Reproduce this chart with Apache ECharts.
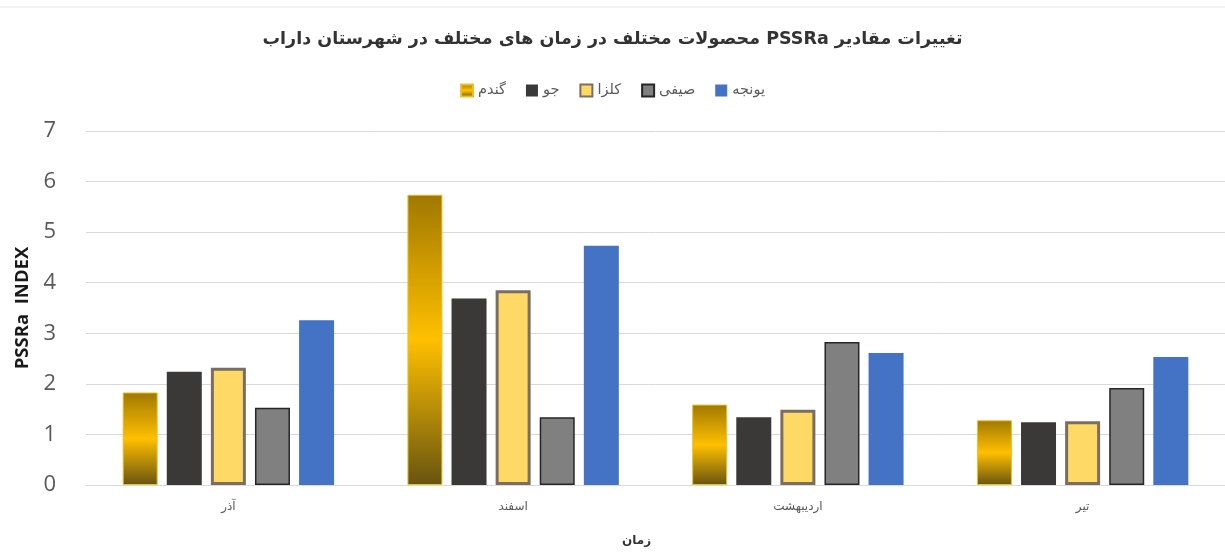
<!DOCTYPE html>
<html>
<head>
<meta charset="utf-8">
<script src="https://cdn.jsdelivr.net/npm/echarts@6/dist/echarts.min.js"></script>
<style>
  html, body { margin: 0; padding: 0; background: #fff; }
  #chart { width: 1225px; height: 552px; }
</style>
</head>
<body>
<div id="chart"></div>
<script>
// Months (categories along the x axis)
const months = ['آذر', 'اسفند', 'اردیبهشت', 'تیر'];

// PSSRa index per crop, one value per month
const wheat = [1.83, 5.74, 1.59, 1.28];     // گندم
const barley = [2.24, 3.69, 1.34, 1.24];    // جو
const canola = [2.32, 3.85, 1.49, 1.26];    // کلزا
const summer = [1.53, 1.34, 2.83, 1.92];    // صیفی
const alfalfa = [3.26, 4.73, 2.61, 2.53];   // یونجه

const yTicks = [0, 1, 2, 3, 4, 5, 6, 7];

// Right-to-left embedding keeps the Latin word in its place inside the Persian title
const titleText = '\u202Bتغییرات مقادیر PSSRa محصولات مختلف در زمان های مختلف در شهرستان داراب\u202C';
const yName = 'PSSRa  INDEX';
const xName = 'زمان';

const fontFa = "'DejaVu Sans', 'Noto Sans', sans-serif";
const fontLatin = "'Open Sans', 'Noto Sans', sans-serif";

const goldFill = new echarts.graphic.LinearGradient(0, 0, 0, 1, [
  { offset: 0, color: '#a07800' },
  { offset: 0.5, color: '#ffc000' },
  { offset: 1, color: '#685410' }
]);

const chart = echarts.init(document.getElementById('chart'));

chart.setOption({
  backgroundColor: '#ffffff',
  animation: false,
  title: {
    text: titleText,
    left: 'center',
    top: 25,
    textStyle: { fontFamily: fontFa, fontSize: 17.5, fontWeight: 'bold', color: '#333333' }
  },
  legend: {
    top: 78,
    left: 'center',
    icon: 'rect',
    itemWidth: 12,
    itemHeight: 12,
    itemGap: 20,
    textStyle: { fontFamily: fontFa, fontSize: 14.5, color: '#595959' },
    data: ['گندم', 'جو', 'کلزا', 'صیفی', 'یونجه']
  },
  graphic: [{
    type: 'line',
    shape: { x1: 0, y1: 7, x2: 1225, y2: 7 },
    style: { stroke: '#e3e3e3', lineWidth: 1 }
  }],
  grid: { left: 86, top: 131, width: 1150, height: 356 },
  xAxis: {
    type: 'category',
    data: months,
    name: xName,
    nameLocation: 'middle',
    nameGap: 50,
    nameTextStyle: { fontFamily: fontFa, fontSize: 12, fontWeight: 'bold', color: '#333333', padding: [0, 38, 0, 0] },
    axisLine: { lineStyle: { color: '#d9d9d9' } },
    axisTick: { show: false },
    axisLabel: { fontFamily: fontFa, fontSize: 12, color: '#595959', margin: 16 }
  },
  yAxis: {
    type: 'value',
    min: yTicks[0],
    max: yTicks[yTicks.length - 1],
    interval: 1,
    name: yName,
    nameLocation: 'middle',
    nameGap: 48,
    nameTextStyle: { fontFamily: fontLatin, fontSize: 18.5, fontWeight: 'bold', color: '#1a1a1a' },
    axisLine: { show: false },
    axisTick: { show: false },
    axisLabel: { fontFamily: fontLatin, fontSize: 22, color: '#595959', margin: 30 },
    splitLine: { lineStyle: { color: '#d9d9d9', width: 1 } }
  },
  series: [
    {
      name: 'گندم', type: 'bar', data: wheat,
      barWidth: 35, barGap: '26%', barCategoryGap: '26%',
      itemStyle: { color: goldFill, borderColor: '#e8c030', borderWidth: 1 }
    },
    {
      name: 'جو', type: 'bar', data: barley, barWidth: 35,
      itemStyle: { color: '#3b3838' }
    },
    {
      name: 'کلزا', type: 'bar', data: canola, barWidth: 35,
      itemStyle: { color: '#ffd966', borderColor: '#7a6e62', borderWidth: 3 }
    },
    {
      name: 'صیفی', type: 'bar', data: summer, barWidth: 35,
      itemStyle: { color: '#808080', borderColor: '#262626', borderWidth: 1.5 }
    },
    {
      name: 'یونجه', type: 'bar', data: alfalfa, barWidth: 35,
      itemStyle: { color: '#4472c4' }
    }
  ]
});
</script>
</body>
</html>
